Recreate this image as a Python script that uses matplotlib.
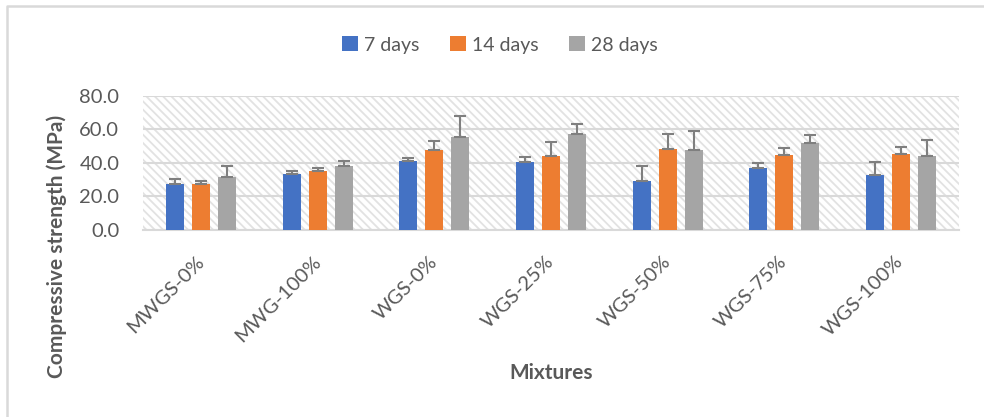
import matplotlib
matplotlib.use('Agg')
from matplotlib import pyplot as plt
from matplotlib.lines import Line2D
from matplotlib.patches import Rectangle
import numpy as np


mixtures = ['MWGS-0%', 'MWG-100%', 'WGS-0%', 'WGS-25%', 'WGS-50%', 'WGS-75%', 'WGS-100%']
ages = ['7 days', '14 days', '28 days']

# средние значения прочности, МПа
strength_7 = [27.3, 33.3, 40.8, 40.2, 29.3, 36.6, 32.8]
strength_14 = [27.5, 35.2, 47.6, 43.8, 48.2, 44.8, 45.4]
strength_28 = [31.5, 38.0, 55.1, 57.0, 47.6, 51.8, 44.0]

# отклонения (только вверх)
err_7 = [2.8, 1.7, 2.2, 3.0, 8.7, 3.4, 7.4]
err_14 = [1.4, 1.4, 5.2, 8.8, 8.9, 3.8, 4.2]
err_28 = [6.5, 3.0, 13.0, 6.3, 11.5, 4.7, 9.6]

colors = ['#4472C4', '#ED7D31', '#A5A5A5']
text_color = '#595959'
grid_color = '#d9d9d9'

plt.rcParams['font.family'] = ['Lato', 'DejaVu Sans']
plt.rcParams['hatch.linewidth'] = 1.3

fig = plt.figure(figsize=(9.84, 4.17), dpi=100)
axs = fig.add_axes([0.1453, 0.4492, 0.8293, 0.3213])

# штриховка фона области построения
axs.add_patch(Rectangle((0, 0), 1, 1, transform=axs.transAxes,
                        facecolor='white', edgecolor='#e2e2e2', linewidth=0,
                        hatch='\\\\\\\\', zorder=0))

x = np.arange(len(mixtures))
width = 0.155
step = 0.223
series = [(strength_7, err_7), (strength_14, err_14), (strength_28, err_28)]
for k, (vals, errs) in enumerate(series):
    pos = x + (k - 1) * step
    axs.bar(pos, vals, width, color=colors[k], label=ages[k], zorder=3)
    axs.errorbar(pos, vals, yerr=[np.zeros(len(errs)), errs], fmt='none',
                 ecolor='#7f7f7f', elinewidth=1.5, capsize=4.5, capthick=1.5, zorder=4)

axs.set_xlim(-0.5, len(mixtures) - 0.5)
axs.set_ylim(0, 80)
axs.set_yticks(range(0, 81, 20))
axs.set_yticklabels([f'{v:.1f}' for v in range(0, 81, 20)])
axs.grid(axis='y', color=grid_color, linewidth=1.5, zorder=1)
axs.set_axisbelow(True)
for side in ['top', 'right', 'left']:
    axs.spines[side].set_visible(False)
axs.spines['bottom'].set_color(grid_color)
axs.spines['bottom'].set_linewidth(1.5)
axs.tick_params(axis='both', length=0, labelcolor=text_color)
axs.tick_params(axis='y', pad=17, labelsize=14.5)

axs.set_xticks(x)
axs.set_xticklabels(mixtures, rotation=45, ha='right', va='center',
                    rotation_mode='anchor', fontsize=14.5)
axs.tick_params(axis='x', pad=21)

fig.text(0.058, 0.41, 'Compressive strength (MPa)', rotation=90, ha='center', va='center',
         fontsize=15, fontweight='bold', color=text_color)
fig.text(0.56, 0.105, 'Mixtures', ha='center', va='center',
         fontsize=15, fontweight='bold', color=text_color)

fig.legend(loc='center', bbox_to_anchor=(0.508, 0.892), ncol=3, frameon=False,
           fontsize=14, labelcolor=text_color, handlelength=0.8, handleheight=0.8,
           handletextpad=0.3, columnspacing=1.6)

# рамка диаграммы
fig.add_artist(Line2D([7 / 984, 7 / 984, 1], [0, 1 - 6 / 417, 1 - 6 / 417],
                      transform=fig.transFigure, color=grid_color, linewidth=1.8))

fig.savefig('out.png', dpi=100)
